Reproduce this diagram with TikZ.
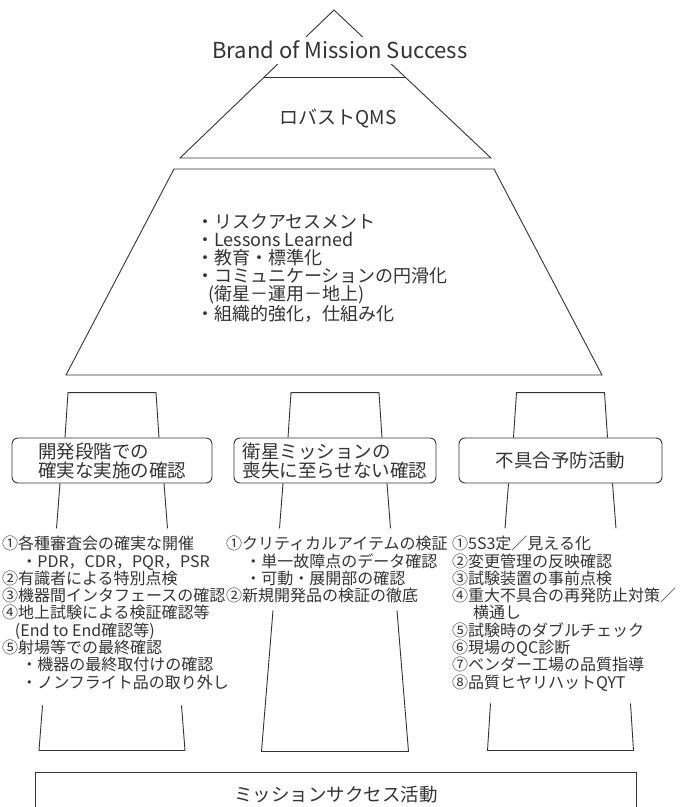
\documentclass[tikz,border=0pt]{standalone}
\usepackage{fontspec}
\setmainfont{Noto Sans CJK JP}
\usetikzlibrary{calc}
\begin{document}
\begin{tikzpicture}[x=1pt,y=-1pt,
  line/.style={draw=black!80, line width=0.9pt},
  txt/.style={text=black!80, inner sep=0pt},
  box/.style={line, rounded corners=6pt, inner sep=0pt, minimum height=45pt,
    align=left, text=black!80, font=\fontsize{18.5}{19}\selectfont},
  listtxt/.style={txt, align=left, anchor=north west, font=\fontsize{16}{17.3}\selectfont},
  ]
\useasboundingbox (0,0) rectangle (690,807);
% top triangle
\coordinate (apex) at (334,10);
\coordinate (tl) at (180,158);
\coordinate (tr) at (491,158);
\draw[line] (tl) -- (apex) -- (tr) -- cycle;
\draw[line] ($(apex)!0.4527!(tl)$) -- ($(apex)!0.4527!(tr)$);
\node[txt, fill=white, minimum height=27pt, inner xsep=2pt, font=\fontsize{22}{22}\selectfont] (brand) at (340,50) {Brand of Mission Success};
\node[txt, font=\fontsize{19}{19}\selectfont] (qms) at (338,118) {ロバストQMS};
% trapezoid
\draw[line] (174,169) -- (494,169) -- (602,375) -- (66,375) -- cycle;
\node[txt, align=left, anchor=north west, font=\fontsize{18}{18}\selectfont] (measures) at (196,214)
  {・リスクアセスメント\\・Lessons Learned\\・教育・標準化\\・コミュニケーションの円滑化\\\hspace{0.7em}(衛星－運用－地上)\\・組織的強化，仕組み化};
% boxes
\node[box, minimum width=200pt] (b1) at (112,460.5) {開発段階での\\確実な実施の確認};
\node[box, minimum width=202pt] (b2) at (335,460.5) {衛星ミッションの\\喪失に至らせない確認};
\node[box, minimum width=203pt] (b3) at (560.5,460.5) {不具合予防活動};
\foreach \b in {b1,b2,b3}{
  \draw[line] ($(\b.north)+(-47,0)$) -- ($(\b.north)+(-44,-45)$) -- ($(\b.north)+(44,-45)$) -- ($(\b.north)+(47,0)$);
  \draw[line] ($(\b.south)+(-52,0)$) -- ($(\b.south)+(-55.5,45)$);
  \draw[line] ($(\b.south)+(52,0)$) -- ($(\b.south)+(55.5,45)$);
}
% lists
\node[listtxt] (l1) at (2,536) {①各種審査会の確実な開催\\\hspace{1.2em}・PDR，CDR，PQR，PSR\\②有識者による特別点検\\③機器間インタフェースの確認\\④地上試験による検証確認等\\\hspace{0.8em}(End to End確認等)\\⑤射場等での最終確認\\\hspace{1.2em}・機器の最終取付けの確認\\\hspace{1.2em}・ノンフライト品の取り外し};
\node[listtxt] (l2) at (226,536) {①クリティカルアイテムの検証\\\hspace{1.2em}・単一故障点のデータ確認\\\hspace{1.2em}・可動・展開部の確認\\②新規開発品の検証の徹底};
\node[listtxt] (l3) at (452,536) {①5S3定／見える化\\②変更管理の反映確認\\③試験装置の事前点検\\④重大不具合の再発防止対策／\\\hspace{1.3em}横通し\\⑤試験時のダブルチェック\\⑥現場のQC診断\\⑦ベンダー工場の品質指導\\⑧品質ヒヤリハットQYT};
% lower pillars
\draw[line] ($(b1.south)+(-69.5,222)$) -- ($(b1.south)+(-73,267)$) -- ($(b1.south)+(73,267)$) -- ($(b1.south)+(69.5,222)$);
\draw[line] ($(b2.south)+(-62,127)$) -- ($(b2.south)+(-73.5,268)$) -- ($(b2.south)+(73.5,268)$) -- ($(b2.south)+(62,127)$);
\draw[line] ($(b3.south)+(-70,220)$) -- ($(b3.south)+(-73,267)$) -- ($(b3.south)+(73,267)$) -- ($(b3.south)+(70,220)$);
% base
\coordinate (bl) at (35,807);
\coordinate (br) at (636,807);
\draw[line] (bl) -- (35,772) -- (636,772) -- (br);
\node[txt, font=\fontsize{18.5}{18.5}\selectfont] (base) at (336,795) {ミッションサクセス活動};
\end{tikzpicture}
\end{document}
